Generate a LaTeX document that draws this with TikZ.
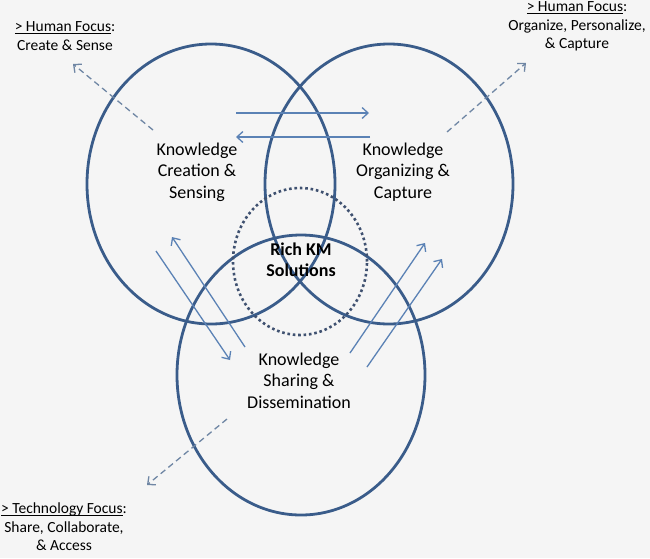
\documentclass[tikz,border=0pt]{standalone}
\usepackage{fontspec}
\setmainfont{Carlito}
\usetikzlibrary{shapes.geometric,arrows.meta}
\definecolor{bg}{HTML}{F5F5F5}
\definecolor{ringc}{HTML}{3A5C8A}
\definecolor{flowc}{HTML}{5B82B5}
\definecolor{focusc}{HTML}{6F86A4}
\definecolor{corec}{HTML}{3F5170}
\newcommand\myul[1]{\setbox0\hbox{#1}\rlap{\rule[-2.2pt]{\wd0}{0.9pt}}#1}
\begin{document}
\begin{tikzpicture}[x=1pt,y=-1pt,
  ringnode/.style={draw=ringc, line width=2.8pt, ellipse, minimum width=248pt, minimum height=280pt, inner sep=0pt},
  corenode/.style={draw=corec, line width=2.6pt, dash pattern=on 2.6pt off 2.8pt, ellipse, minimum width=134pt, minimum height=147pt, inner sep=0pt},
  areatext/.style={align=center, font=\fontsize{18}{21.5}\selectfont, inner sep=0pt},
  focustext/.style={align=center, font=\fontsize{15.5}{18.5}\selectfont, inner sep=0pt},
  flowarrow/.style={draw=flowc, line width=1.3pt, -{Straight Barb[length=6pt,width=11pt]}},
  focusarrow/.style={draw=focusc, line width=1.3pt, dash pattern=on 6pt off 4pt, -{Straight Barb[length=6pt,width=11pt]}}
]
\fill[bg] (0,0) rectangle (650,558);
\useasboundingbox (0,0) rectangle (650,558);

% circles
\node[ringnode] (create) at (211,184) {};
\node[ringnode] (organize) at (389,184) {};
\node[ringnode] (share) at (301,375) {};
\node[corenode] (core) at (300,261.5) {};

% area texts
\node[areatext] (tcreate) at (197,172) {Knowledge\\Creation \&\\Sensing};
\node[areatext] (torganize) at (403,172) {Knowledge\\Organizing \&\\Capture};
\node[areatext] (tshare) at (299,380.5) {Knowledge\\Sharing \&\\Dissemination};
\node[areatext, font=\bfseries\fontsize{18}{21.5}\selectfont] (tcore) at (301,259.5) {Rich KM\\Solutions};

% focus labels
\node[focustext] (fcreate) at (65,36) {\myul{> Human Focus}:\\Create \& Sense};
\node[focustext] (forganize) at (577,26.5) {\myul{> Human Focus}:\\Organize, Personalize,\\\& Capture};
\node[focustext] (fshare) at (64,527) {\myul{> Technology Focus}:\\Share, Collaborate,\\\& Access};

% flow arrows coordinates
\coordinate (a1s) at (236,113); \coordinate (a1e) at (369,113);
\coordinate (a2s) at (370,137); \coordinate (a2e) at (236,137);
\coordinate (b1s) at (245,347); \coordinate (b1e) at (172,237);
\coordinate (b2s) at (156,251); \coordinate (b2e) at (230,360);
\coordinate (c1s) at (350,353); \coordinate (c1e) at (425,243);
\coordinate (c2s) at (367,367); \coordinate (c2e) at (442,259);
\draw[flowarrow] (a1s) -- (a1e);
\draw[flowarrow] (a2s) -- (a2e);
\draw[flowarrow] (b1s) -- (b1e);
\draw[flowarrow] (b2s) -- (b2e);
\draw[flowarrow] (c1s) -- (c1e);
\draw[flowarrow] (c2s) -- (c2e);

% focus arrows
\coordinate (d1s) at (153,130); \coordinate (d1e) at (73,64);
\coordinate (d2s) at (447,132); \coordinate (d2e) at (526,63);
\coordinate (d3s) at (227,419); \coordinate (d3e) at (147,485);
\draw[focusarrow] (d1s) -- (d1e);
\draw[focusarrow] (d2s) -- (d2e);
\draw[focusarrow] (d3s) -- (d3e);
\end{tikzpicture}
\end{document}
